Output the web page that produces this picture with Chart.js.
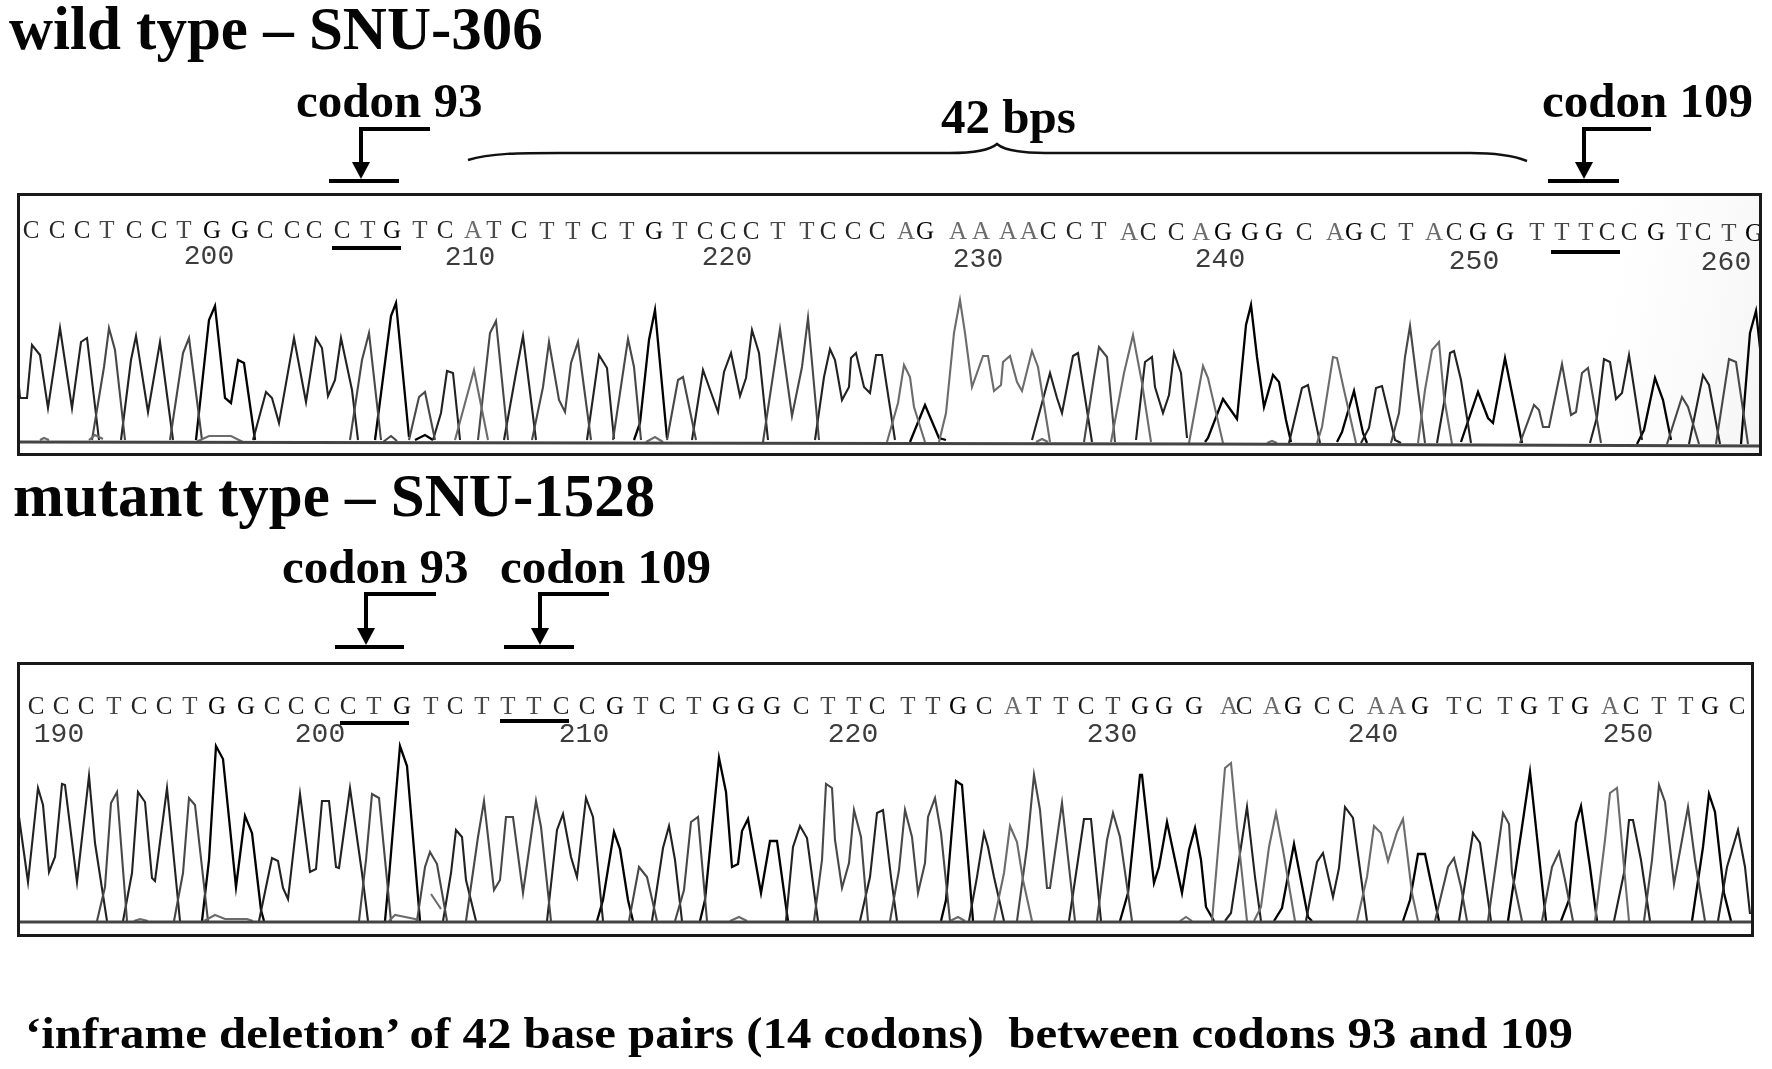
<!DOCTYPE html>
<html>
<head>
<meta charset="utf-8">
<title>SNU-306 / SNU-1528 sequence traces</title>
<script src="https://cdn.jsdelivr.net/npm/chart.js@4"></script>
<style>
body { margin: 0; background: #fff; }
#page { position: relative; width: 1772px; height: 1069px; overflow: hidden; }
.panel { position: absolute; outline: 3px solid #1a1a1a; outline-offset: -3px; }
.panel canvas { display: block; }
#wildBox { background: linear-gradient(100deg, #fff 90%, #f9f9f9 97%, #f4f4f4 100%); }
#notes { position: absolute; left: 0; top: 0; }
#notes text { font-family: "Liberation Serif", serif; font-weight: bold; fill: #050505; white-space: pre; }
</style>
</head>
<body>
<div id="page">
  <div class="panel" id="wildBox" style="left:17px;top:193px;width:1745px;height:263px"><canvas id="wildChart"></canvas></div>
  <div class="panel" id="mutBox" style="left:17px;top:662px;width:1737px;height:275px"><canvas id="mutChart"></canvas></div>
  <svg id="notes" width="1772" height="1069"></svg>
</div>
<script>
// trace data, [scan, signal], one inner list for each stretch of a base channel
const wildG = [
  [[196,2],[209,122],[215,136],[225,44],[231,39],[238,82],[244,79],[255,2]],
  [[375,2],[391,126],[396,139],[409,5]],
  [[415,2],[425,7],[433,2]],
  [[634,2],[640,19],[649,102],[655,132],[667,4]],
  [[910,0],[925,37],[939,4],[946,2]],
  [[1205,0],[1208,4],[1223,43],[1237,23],[1246,117],[1251,137],[1257,85],[1264,35],[1273,67],[1279,60],[1286,22],[1291,0]],
  [[1337,0],[1342,10],[1354,51],[1363,9],[1367,-1]],
  [[1461,0],[1478,50],[1488,24],[1493,19],[1505,84],[1514,39],[1522,-1]],
  [[1637,-2],[1644,12],[1655,64],[1663,42],[1671,2]],
  [[1741,-2],[1750,109],[1756,131],[1761,85]]
];
const wildC = [
  [[19,55],[20,44],[27,44],[32,97],[40,87],[48,34],[60,114],[72,34],[81,100],[87,104],[99,2]],
  [[121,2],[131,82],[136,106],[148,30],[160,100],[173,2]],
  [[253,2],[266,50],[272,44],[279,19],[294,104],[306,40],[316,104],[322,94],[328,46],[335,62],[341,104],[352,52],[358,2]],
  [[433,2],[441,29],[447,71],[453,69],[460,2]],
  [[504,2],[516,69],[523,106],[536,2]],
  [[587,2],[599,87],[607,74],[614,3]],
  [[692,2],[703,72],[718,30],[724,70],[731,89],[740,46],[746,64],[752,112],[759,89],[768,2]],
  [[815,2],[824,65],[830,93],[835,82],[842,42],[849,55],[851,84],[856,89],[864,55],[870,49],[876,87],[882,87],[895,2]],
  [[1032,2],[1042,39],[1050,69],[1057,44],[1062,29],[1073,86],[1078,89],[1092,0]],
  [[1136,2],[1145,80],[1152,85],[1155,55],[1163,29],[1169,47],[1174,89],[1181,69],[1187,4]],
  [[1289,-1],[1302,54],[1308,57],[1320,-1]],
  [[1361,-1],[1369,14],[1376,54],[1382,56],[1395,2],[1401,-1]],
  [[1437,-1],[1444,39],[1450,89],[1454,91],[1461,62],[1471,-1]],
  [[1590,-1],[1597,25],[1604,83],[1610,80],[1616,43],[1622,49],[1629,87],[1642,2]],
  [[1689,-2],[1703,67],[1709,57],[1720,-2]]
];
const wildT = [
  [[92,2],[104,75],[109,114],[115,92],[125,2]],
  [[170,2],[183,89],[189,104],[202,2]],
  [[350,2],[362,82],[369,109],[381,2]],
  [[383,0],[391,6],[397,1]],
  [[409,2],[419,45],[425,50],[435,2]],
  [[478,2],[490,109],[496,121],[508,2]],
  [[532,2],[543,55],[549,100],[559,42],[565,30],[571,79],[578,100],[591,2]],
  [[613,2],[628,103],[634,75],[641,2]],
  [[667,2],[678,62],[683,65],[696,2]],
  [[763,0],[780,113],[792,26],[802,75],[808,124],[819,2]],
  [[1084,0],[1094,65],[1099,95],[1107,85],[1115,0]],
  [[1391,-1],[1399,29],[1405,85],[1410,116],[1418,52],[1425,-1]],
  [[1520,-1],[1534,37],[1539,32],[1543,15],[1549,15],[1562,78],[1571,27],[1576,30],[1582,69],[1588,74],[1601,-1]],
  [[1667,-2],[1682,45],[1688,35],[1699,-2]],
  [[1716,-2],[1729,83],[1736,80],[1748,-2]]
];
const wildA = [
  [[40,2],[44,4],[49,2]],
  [[89,2],[95,7],[103,3]],
  [[196,0],[209,6],[231,6],[243,0]],
  [[455,2],[474,72],[488,2]],
  [[646,0],[655,5],[663,0]],
  [[887,0],[898,39],[904,77],[910,65],[914,35],[925,0]],
  [[939,0],[946,29],[954,109],[960,142],[965,109],[972,55],[983,86],[988,86],[994,51],[1001,57],[1003,80],[1010,86],[1017,60],[1022,51],[1032,91],[1038,75],[1050,0]],
  [[1036,0],[1042,3],[1048,0]],
  [[1111,0],[1124,69],[1133,107],[1142,59],[1151,0]],
  [[1189,-1],[1203,76],[1208,64],[1223,-1]],
  [[1267,-1],[1272,1],[1277,-1]],
  [[1317,-1],[1322,15],[1333,85],[1337,84],[1344,52],[1356,-1]],
  [[1418,-1],[1425,52],[1432,92],[1439,100],[1444,45],[1452,-2]]
];
const wildBaseline = [[17,0],[600,-1],[1200,-2],[1762,-4]];

const mutG = [
  [[202,0],[209,61],[216,175],[223,162],[236,34],[245,105],[252,88],[261,11],[264,0]],
  [[385,0],[389,44],[400,175],[407,155],[420,0]],
  [[597,0],[603,21],[614,89],[620,72],[628,21],[633,0]],
  [[700,0],[705,21],[719,163],[726,129],[732,54],[738,57],[742,90],[748,102],[761,28],[770,80],[777,80],[788,0]],
  [[941,0],[946,21],[956,140],[962,136],[973,0]],
  [[1120,0],[1128,28],[1140,146],[1142,146],[1154,38],[1159,54],[1167,99],[1182,28],[1189,71],[1195,93],[1201,61],[1206,14],[1214,0]],
  [[1274,0],[1282,13],[1294,77],[1308,4],[1312,0]],
  [[1403,0],[1410,21],[1418,67],[1425,67],[1439,0]],
  [[1508,0],[1522,94],[1530,149],[1537,84],[1546,0]],
  [[1561,0],[1569,21],[1576,98],[1581,115],[1590,54],[1597,0]],
  [[1692,0],[1703,74],[1709,127],[1715,109],[1724,28],[1731,0]]
];
const mutC = [
  [[19,104],[28,39],[38,133],[43,116],[49,49],[55,64],[62,137],[65,136],[77,39],[89,145],[95,78],[107,0]],
  [[123,0],[132,48],[138,129],[145,119],[152,43],[155,40],[167,133],[180,0]],
  [[259,0],[272,63],[278,60],[283,33],[288,22],[300,127],[310,49],[316,52],[322,120],[329,120],[336,54],[339,53],[350,133],[362,48],[368,0]],
  [[443,0],[451,48],[456,91],[462,84],[466,41],[476,0]],
  [[547,0],[557,91],[563,107],[571,64],[577,44],[586,123],[593,104],[603,0]],
  [[652,0],[663,73],[669,95],[675,61],[682,0]],
  [[786,0],[793,74],[800,95],[807,83],[818,0]],
  [[860,0],[870,44],[877,108],[883,111],[891,44],[897,0]],
  [[969,0],[977,44],[984,88],[988,74],[994,44],[1004,0]],
  [[1069,0],[1078,61],[1084,102],[1091,102],[1101,0]],
  [[1225,0],[1231,8],[1239,61],[1247,114],[1255,44],[1261,0]],
  [[1306,0],[1317,59],[1323,68],[1333,24],[1339,53],[1345,114],[1353,103],[1367,0]],
  [[1459,0],[1473,88],[1480,78],[1491,0]],
  [[1614,0],[1624,48],[1629,101],[1633,101],[1641,61],[1650,0]],
  [[1718,0],[1727,54],[1738,91],[1745,54],[1750,7]]
];
const mutT = [
  [[97,0],[105,34],[111,118],[117,129],[127,0]],
  [[174,0],[183,48],[189,123],[195,116],[208,0]],
  [[359,0],[366,61],[372,127],[379,123],[391,0]],
  [[417,0],[425,54],[430,69],[437,57],[447,0]],
  [[466,0],[478,84],[484,120],[494,31],[500,41],[506,104],[513,104],[523,28],[536,120],[541,94],[551,0]],
  [[629,0],[639,54],[647,44],[657,0]],
  [[675,0],[684,31],[691,99],[698,104],[707,0]],
  [[814,0],[822,61],[826,137],[832,133],[835,81],[842,33],[849,58],[854,111],[861,84],[868,0]],
  [[890,0],[899,51],[905,111],[912,84],[918,28],[925,58],[928,104],[935,123],[941,88],[950,0]],
  [[1017,0],[1027,74],[1034,146],[1040,111],[1047,33],[1050,33],[1062,118],[1075,0]],
  [[1097,0],[1107,81],[1113,108],[1120,84],[1132,0]],
  [[1435,0],[1448,54],[1454,63],[1461,34],[1467,0]],
  [[1488,0],[1503,108],[1509,97],[1512,48],[1522,0]],
  [[1542,0],[1552,54],[1559,69],[1565,41],[1573,0]],
  [[1644,0],[1652,61],[1659,136],[1665,119],[1674,37],[1688,114],[1695,61],[1705,0]]
];
const mutA = [
  [[134,0],[140,2],[148,0]],
  [[204,0],[215,6],[225,2],[247,2],[253,0]],
  [[389,0],[395,6],[415,2],[419,0]],
  [[431,27],[441,12]],
  [[730,0],[739,4],[747,0]],
  [[950,0],[958,4],[965,0]],
  [[994,0],[1004,48],[1010,95],[1017,79],[1023,41],[1032,0]],
  [[1180,0],[1186,4],[1192,0]],
  [[1212,0],[1225,153],[1231,158],[1237,94],[1247,0]],
  [[1254,0],[1261,14],[1269,74],[1276,108],[1283,71],[1295,0]],
  [[1357,0],[1367,44],[1374,95],[1381,88],[1388,60],[1397,89],[1403,102],[1412,28],[1418,0]],
  [[1595,0],[1605,81],[1610,128],[1617,133],[1624,54],[1629,0]]
];
const mutBaseline = [[17,-1],[1754,-1]];

// base calls along the top of each trace
const wildBases = 'CCCTCCTGGCCCCTGTCATCTTCTGTCCCTTCCCAGAAAACCTACCAGGGCAGCTACGGTTTCCGTCTG'.split('');
const wildBasePos = [31,57,82,107,134,159,184,212,240,265,292,314,342,368,392,420,445,473,494,519,547,573,599,627,654,680,705,728,751,778,807,828,853,877,906,925,958,981,1008,1029,1048,1074,1099,1129,1148,1176,1201,1223,1250,1274,1304,1335,1354,1378,1406,1434,1454,1478,1505,1537,1562,1586,1607,1629,1656,1684,1703,1729,1754];
const mutBases = 'CCCTCCTGGCCCCTGTCTTTCCGTCTGGGCTTCTTGCATTCTGGGACAGCCAAGTCTGTGACTTGC'.split('');
const mutBasePos = [36,61,86,114,139,164,190,217,246,272,296,322,348,374,402,431,455,482,508,534,561,587,615,641,667,694,721,746,772,801,828,854,877,908,933,958,984,1013,1034,1061,1086,1113,1140,1164,1194,1229,1244,1272,1293,1322,1346,1376,1397,1420,1454,1474,1505,1529,1556,1580,1610,1631,1659,1686,1710,1737];

// numbering under the base calls
const wildNumbers = ['200','210','220','230','240','250','260'];
const wildNumberPos = [209,470,727,978,1220,1474,1726];
const wildNumberHeight = [185,184,184,182,182,180,179];
const mutNumbers = ['190','200','210','220','230','240','250'];
const mutNumberPos = [59,320,584,853,1112,1373,1628];
const mutNumberHeight = [186,186,186,186,186,186,186];

// codon underlines: from, to, height
const wildCodons = [[332,401,194],[1551,1620,190]];
const mutCodons = [[340,409,198],[500,569,200]];

// text and arrows around the panels
const headings = [
  ['wild type – SNU-306', 9, 49, 61],
  ['mutant type – SNU-1528', 13, 516, 61],
  ['codon 93', 296, 117, 49],
  ['42 bps', 941, 133, 49],
  ['codon 109', 1542, 117, 49],
  ['codon 93', 282, 583, 49],
  ['codon 109', 500, 583, 49]
];
const footnote = '‘inframe deletion’ of 42 base pairs (14 codons)  between codons 93 and 109';
// stem x, top y, arm end x, bar left, bar right, tip y
const arrows = [
  [361,129,430,329,399,179],
  [1584,129,1651,1548,1619,179],
  [366,594,436,335,404,645],
  [540,594,609,504,574,645]
];

const baseColors = { G: '#000', C: '#222', T: '#484848', A: '#6c6c6c' };

function traceDataset(runs, color, width) {
  const data = [];
  runs.forEach(run => {
    run.forEach(p => data.push({ x: p[0], y: p[1] }));
    data.push({ x: run[run.length - 1][0], y: null });
  });
  return { data: data, borderColor: color, borderWidth: width, pointRadius: 0, tension: 0, spanGaps: false, parsing: false };
}

function sequencePlugin(bases, basePos, numbers, numberPos, numberHeight, codons, baseRow, tilt) {
  return {
    id: 'sequence',
    afterDatasetsDraw(chart) {
      const ctx = chart.ctx, x = chart.scales.x, y = chart.scales.y;
      ctx.save();
      ctx.textAlign = 'center';
      ctx.textBaseline = 'middle';
      ctx.font = '25px "Liberation Serif", serif';
      bases.forEach((b, i) => {
        const row = baseRow - tilt * basePos[i] / 1742;
        ctx.fillStyle = baseColors[b];
        ctx.fillText(b, x.getPixelForValue(basePos[i]), y.getPixelForValue(row));
      });
      ctx.font = '28px "Liberation Mono", monospace';
      ctx.fillStyle = '#3c3c3c';
      numbers.forEach((n, i) => {
        ctx.fillText(n, x.getPixelForValue(numberPos[i]), y.getPixelForValue(numberHeight[i]));
      });
      ctx.strokeStyle = '#000';
      ctx.lineWidth = 4;
      codons.forEach(c => {
        ctx.beginPath();
        ctx.moveTo(x.getPixelForValue(c[0]), y.getPixelForValue(c[2]));
        ctx.lineTo(x.getPixelForValue(c[1]), y.getPixelForValue(c[2]));
        ctx.stroke();
      });
      ctx.restore();
    }
  };
}

function traceChart(id, boxId, channels, baseline, yMin, yMax, xMax, plugin) {
  const box = document.getElementById(boxId);
  const canvas = document.getElementById(id);
  canvas.width = box.clientWidth;
  canvas.height = box.clientHeight;
  const datasets = [
    traceDataset([baseline], '#444', 3),
    traceDataset(channels.A, baseColors.A, 2.1),
    traceDataset(channels.T, baseColors.T, 2.1),
    traceDataset(channels.C, baseColors.C, 2.1),
    traceDataset(channels.G, baseColors.G, 2.3)
  ];
  return new Chart(canvas, {
    type: 'line',
    data: { datasets: datasets },
    options: {
      responsive: false,
      animation: false,
      events: [],
      layout: { padding: 0 },
      plugins: { legend: { display: false }, tooltip: { enabled: false } },
      scales: {
        x: { type: 'linear', min: 17, max: xMax, display: false },
        y: { type: 'linear', min: yMin, max: yMax, display: false }
      }
    },
    plugins: [plugin]
  });
}

traceChart('wildChart', 'wildBox', { G: wildG, C: wildC, T: wildT, A: wildA }, wildBaseline, -14, 249, 1762,
  sequencePlugin(wildBases, wildBasePos, wildNumbers, wildNumberPos, wildNumberHeight, wildCodons, 211, 3));
traceChart('mutChart', 'mutBox', { G: mutG, C: mutC, T: mutT, A: mutA }, mutBaseline, -16, 259, 1754,
  sequencePlugin(mutBases, mutBasePos, mutNumbers, mutNumberPos, mutNumberHeight, mutCodons, 214, 0));

// headings, arrows and the brace over the deleted stretch
const svgNS = 'http://www.w3.org/2000/svg';
const notes = document.getElementById('notes');
function addSvg(tag, attrs) {
  const el = document.createElementNS(svgNS, tag);
  Object.keys(attrs).forEach(k => el.setAttribute(k, attrs[k]));
  notes.appendChild(el);
  return el;
}
headings.forEach(h => {
  const t = addSvg('text', { x: h[1], y: h[2], 'font-size': h[3] });
  t.textContent = h[0];
});
const foot = addSvg('text', { x: 25, y: 1048, 'font-size': 44, textLength: 1548, lengthAdjust: 'spacingAndGlyphs' });
foot.textContent = footnote;
arrows.forEach(a => {
  addSvg('path', { d: 'M' + a[2] + ' ' + a[1] + 'H' + a[0] + 'V' + (a[5] - 15), fill: 'none', stroke: '#000', 'stroke-width': 4 });
  addSvg('path', { d: 'M' + (a[0] - 9) + ' ' + (a[5] - 17) + 'H' + (a[0] + 9) + 'L' + a[0] + ' ' + a[5] + 'Z', fill: '#000' });
  addSvg('path', { d: 'M' + a[3] + ' ' + (a[5] + 2) + 'H' + a[4], stroke: '#000', 'stroke-width': 4 });
});
addSvg('path', {
  d: 'M468 160C490 153 520 153 560 153L950 153C975 153 990 150 997 144C1004 150 1020 153 1045 153L1470 153C1500 153 1515 156 1527 161',
  fill: 'none', stroke: '#111', 'stroke-width': 2.5
});
</script>
</body>
</html>
